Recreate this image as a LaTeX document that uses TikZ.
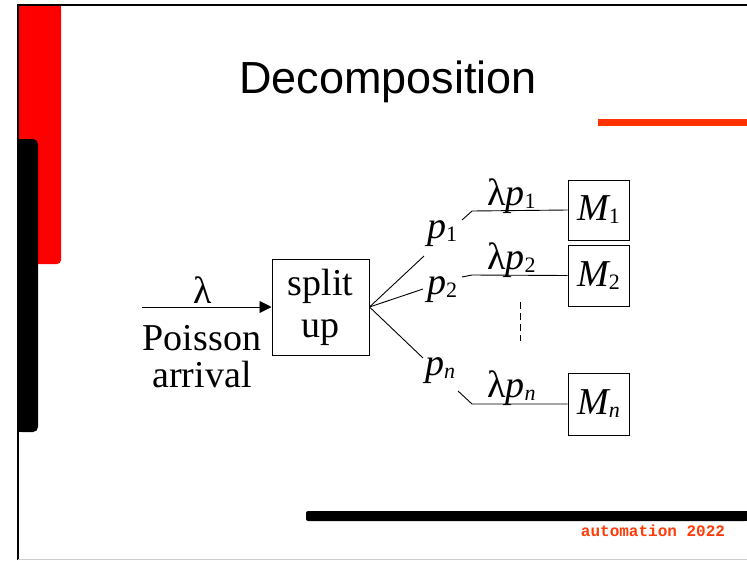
\documentclass[tikz,border=0pt]{standalone}
\usepackage{fontspec}
\setmainfont{Liberation Serif}
\newfontfamily\titlefont{Liberation Sans}
\newfontfamily\footfont{Liberation Mono}
\usetikzlibrary{arrows.meta}
\definecolor{barred}{RGB}{255,0,0}
\definecolor{lineorange}{RGB}{255,51,0}
\definecolor{footorange}{RGB}{255,60,10}
\newcommand{\sbs}[1]{\raisebox{-3pt}{\upshape\fontsize{22}{22}\selectfont #1}}
\newcommand{\sbn}[1]{\raisebox{-3pt}{\itshape\fontsize{22}{22}\selectfont #1}}
\tikzset{
  txt/.style={font=\fontsize{38}{38}\selectfont, inner sep=0pt},
  box/.style={draw, line width=1pt, inner sep=0pt},
  conn/.style={line width=0.9pt},
}
\begin{document}
\begin{tikzpicture}[x=1pt,y=-1pt]
\useasboundingbox (0,0) rectangle (747,560);
\fill[white] (0,0) rectangle (747,560);
% slide decorations
\fill[barred, rounded corners=4pt] (18,5) rectangle (61,264);
\fill[barred] (18,5) rectangle (40,264);
\fill[barred] (18,5) rectangle (61,30);
\fill[black, rounded corners=5pt] (17,139) rectangle (38,432);
\fill[black] (17,139) rectangle (28,432);
\draw[line width=2pt] (18,560) -- (18,5) -- (747,5);
\draw[black!20, line width=1pt] (18,559) -- (747,559);
\fill[lineorange] (598,119) rectangle (747,126);
\fill[black, rounded corners=2pt] (306,511) rectangle (747,521);
\fill[black] (320,511) rectangle (747,521);
\node[text=footorange, font=\footfont\bfseries\fontsize{16}{16}\selectfont, inner sep=0pt] (foot) at (653,531) {automation 2022};
\node[font=\titlefont\fontsize{45}{45}\selectfont, inner sep=0pt] (title) at (388,82) {Decomposition};
% diagram
\node[box, minimum width=97, minimum height=96, align=center, font=\fontsize{38}{42}\selectfont] (split) at (320.5,307) {split\\up};
\coordinate (src) at (142,307);
\draw[conn, -{Triangle[length=12pt,width=12pt]}] (src) -- (split.west);
\node[txt] (lam) at (203,290) {λ};
\node[txt, anchor=base] (poisson) at (202,350) {Poisson};
\node[txt, anchor=base] (arrival) at (202,387) {arrival};
% M boxes
\node[box, minimum width=61, minimum height=60, font=\itshape\fontsize{38}{38}\selectfont] (M1) at (598.5,210) {M\sbs{1}};
\node[box, minimum width=61, minimum height=61, font=\itshape\fontsize{38}{38}\selectfont] (M2) at (598.5,275.5) {M\sbs{2}};
\node[box, minimum width=61, minimum height=62, font=\itshape\fontsize{38}{38}\selectfont] (Mn) at (598.5,404) {M\sbn{n}};
% p labels
\node[txt, anchor=base west] (p1) at (427,238) {\textit{p}\sbs{1}};
\node[txt, anchor=base west] (p2) at (427,294) {\textit{p}\sbs{2}};
\node[txt, anchor=base west] (pn) at (425,375) {\textit{p}\sbn{n}};
\node[txt, anchor=base west] (lp1) at (487,205) {λ\textit{p}\sbs{1}};
\node[txt, anchor=base west] (lp2) at (487,269) {λ\textit{p}\sbs{2}};
\node[txt, anchor=base west] (lpn) at (487,397) {λ\textit{p}\sbn{n}};
% fan
\coordinate (f1) at (424,256);
\coordinate (f2) at (423,289);
\coordinate (fn) at (423,358);
\draw[conn] (split.east) -- (f1);
\draw[conn] (split.east) -- (f2);
\draw[conn] (split.east) -- (fn);
% branches
\coordinate (b1s) at (462,220);
\coordinate (b1c) at (472,211);
\coordinate (b2s) at (462,277);
\coordinate (b2c) at (472,275);
\coordinate (bns) at (458,391);
\coordinate (bnc) at (472,404);
\draw[conn] (b1s) -- (b1c) -- (M1.west);
\draw[conn] (b2s) -- (b2c) -- (M2.west);
\draw[conn] (bns) -- (bnc) -- (Mn.west);
\coordinate (d1) at (520,302);
\coordinate (d2) at (520,341);
\draw[conn, dash pattern=on 7pt off 4pt] (d1) -- (d2);
\end{tikzpicture}
\end{document}
